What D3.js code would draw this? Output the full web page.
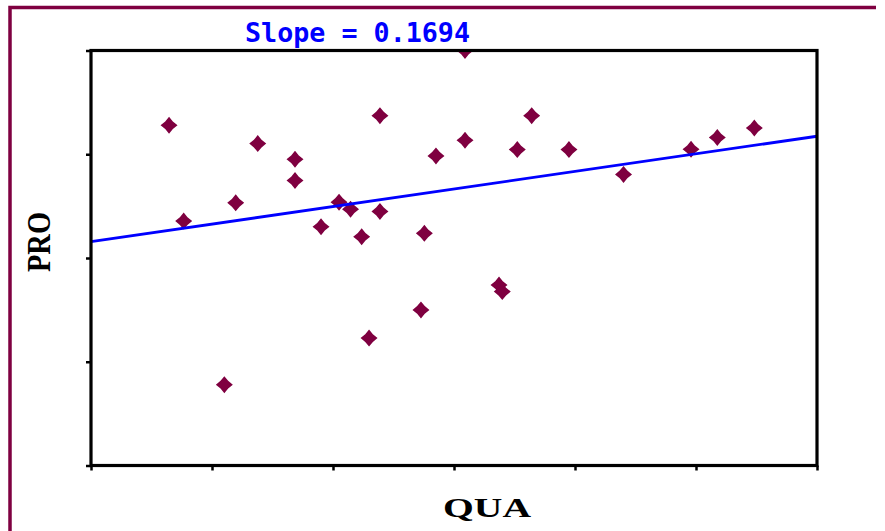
<!DOCTYPE html>
<html>
<head>
<meta charset="utf-8">
<script src="https://cdn.jsdelivr.net/npm/d3@7"></script>
<style>
  html, body { margin: 0; padding: 0; background: #ffffff; }
  svg { display: block; }
</style>
</head>
<body>
<svg id="chart" width="885" height="531"></svg>
<script>
// QUA / PRO scatter with fitted line
const qua = [1.645, 1.766, 2.102, 2.196, 2.378, 2.686, 2.686, 2.901, 3.050, 3.145,
             3.237, 3.298, 3.388, 3.388, 3.727, 3.755, 3.851, 4.091, 4.091, 4.372,
             4.399, 4.523, 4.642, 4.950, 5.401, 5.959, 6.176, 6.482];
const pro = [4.279, 3.356, 1.779, 3.532, 4.103, 3.952, 3.747, 3.301, 3.538, 3.471,
             3.205, 2.228, 4.372, 3.449, 2.500, 3.238, 3.984, 5.000, 4.135, 2.740,
             2.676, 4.045, 4.372, 4.045, 3.806, 4.048, 4.161, 4.253];

const xTicks = [1, 2, 3, 4, 5, 6, 7];
const yTicks = [1, 2, 3, 4, 5];

const slope = 0.1694;
const intercept = 2.9876;   // PRO at QUA = 0

const xLabel = "QUA";
const yLabel = "PRO";
const title = "Slope = " + slope.toFixed(4);

const maroon = "#7f0040";
const blue = "#0000ff";

const svg = d3.select("#chart");
const plot = { left: 91, right: 817, top: 50.5, bottom: 465.5 };

const x = d3.scaleLinear().domain([1, 7]).range([plot.left, plot.right]);
const y = d3.scaleLinear().domain([1, 5]).range([plot.bottom, plot.top]);

// outer frame (top and left edges)
svg.append("path")
  .attr("d", "M10,531 L10,7.5 L876,7.5")
  .attr("fill", "none")
  .attr("stroke", maroon)
  .attr("stroke-width", 3.5);

// clip region for the plot
svg.append("clipPath").attr("id", "plotClip")
  .append("rect")
  .attr("x", plot.left).attr("y", plot.top)
  .attr("width", plot.right - plot.left).attr("height", plot.bottom - plot.top);

// tick marks (no labels)
const xAxis = svg.append("g")
  .attr("transform", `translate(0,${plot.bottom})`)
  .call(d3.axisBottom(x).tickValues(xTicks).tickSize(5).tickFormat(""));
const yAxis = svg.append("g")
  .attr("transform", `translate(${plot.left},0)`)
  .call(d3.axisLeft(y).tickValues(yTicks).tickSize(5).tickFormat(""));
[xAxis, yAxis].forEach(g => {
  g.select(".domain").remove();
  g.selectAll(".tick line").attr("stroke", "#000").attr("stroke-width", 2.5);
});

// markers: four-pointed diamond
const marker = (() => {
  const R = 8.5, r = 5.4;
  const pts = [];
  for (let i = 0; i < 8; i++) {
    const a = -Math.PI / 2 + i * Math.PI / 4;
    const rad = i % 2 === 0 ? R : r;
    pts.push([rad * Math.cos(a), rad * Math.sin(a)]);
  }
  return "M" + pts.map(p => p[0].toFixed(2) + "," + p[1].toFixed(2)).join("L") + "Z";
})();

svg.append("g")
  .attr("clip-path", "url(#plotClip)")
  .selectAll("path")
  .data(d3.zip(qua, pro))
  .join("path")
  .attr("d", marker)
  .attr("transform", d => `translate(${x(d[0])},${y(d[1])})`)
  .attr("fill", maroon);

// fitted line
const line = d3.line().x(d => x(d)).y(d => y(intercept + slope * d));
svg.append("path")
  .datum(x.domain())
  .attr("d", line)
  .attr("fill", "none")
  .attr("stroke", blue)
  .attr("stroke-width", 2.8);

// plot frame
svg.append("rect")
  .attr("x", plot.left).attr("y", plot.top)
  .attr("width", plot.right - plot.left).attr("height", plot.bottom - plot.top)
  .attr("fill", "none")
  .attr("stroke", "#000")
  .attr("stroke-width", 3.2);

// title
svg.append("text")
  .attr("x", 245).attr("y", 42)
  .attr("font-family", "'DejaVu Sans Mono', monospace")
  .attr("font-weight", "bold")
  .attr("font-size", 27)
  .attr("textLength", 225)
  .attr("lengthAdjust", "spacingAndGlyphs")
  .attr("fill", blue)
  .text(title);

// axis labels
svg.append("text")
  .attr("x", 443).attr("y", 517)
  .attr("font-family", "'Liberation Serif', 'Times New Roman', serif")
  .attr("font-weight", "bold")
  .attr("font-size", 27)
  .attr("textLength", 88)
  .attr("lengthAdjust", "spacingAndGlyphs")
  .attr("fill", "#000")
  .text(xLabel);

svg.append("text")
  .attr("transform", "translate(50,272) rotate(-90)")
  .attr("font-family", "'Liberation Serif', 'Times New Roman', serif")
  .attr("font-weight", "bold")
  .attr("font-size", 33)
  .attr("textLength", 60)
  .attr("lengthAdjust", "spacingAndGlyphs")
  .attr("fill", "#000")
  .text(yLabel);
</script>
</body>
</html>
